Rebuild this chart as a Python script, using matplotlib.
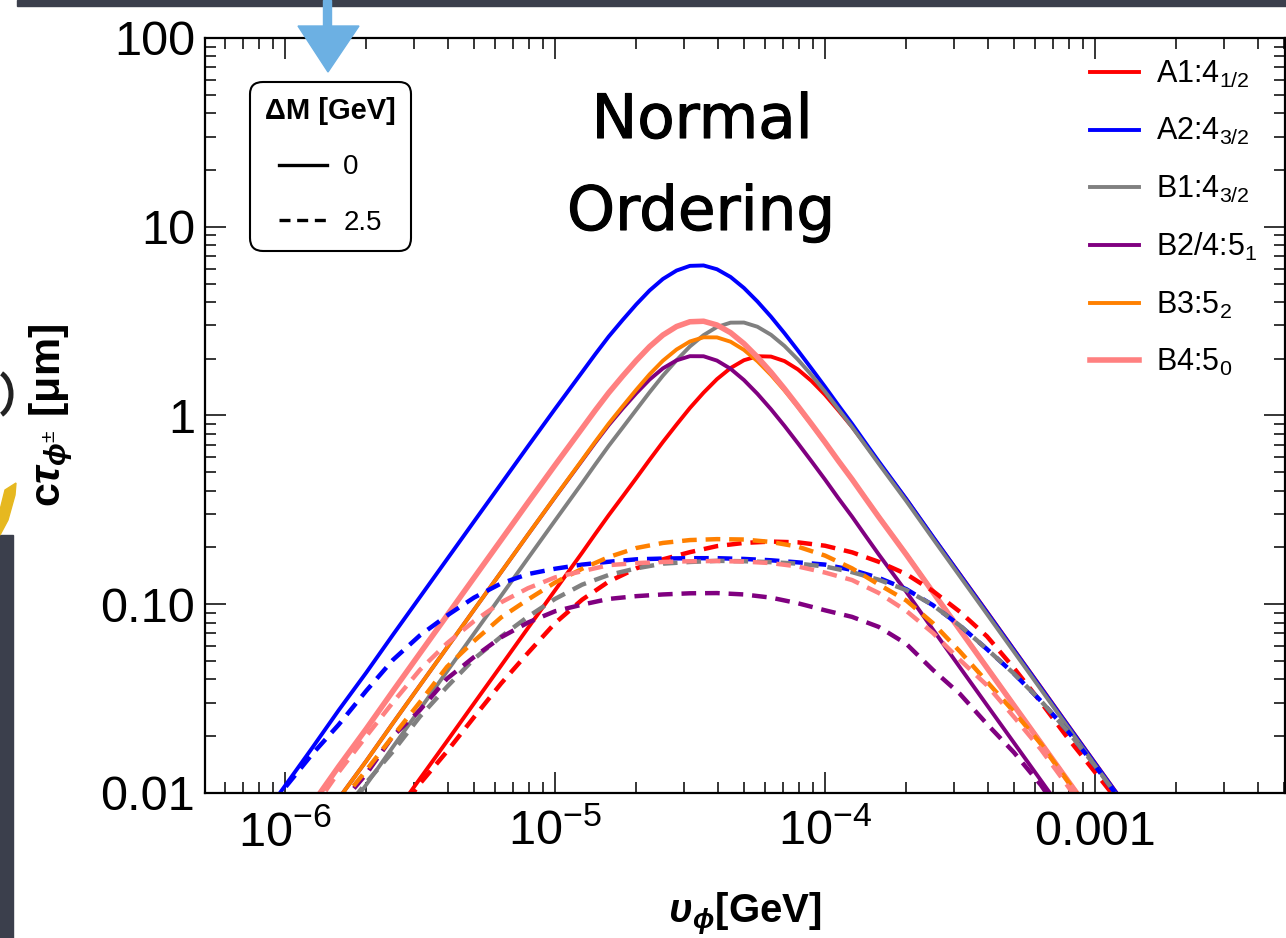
import matplotlib
matplotlib.use("Agg")
import matplotlib.pyplot as plt
import matplotlib.patheffects as pe
import numpy as np
from matplotlib.lines import Line2D
from matplotlib.patches import Arc, Polygon, Rectangle
from matplotlib.ticker import LogLocator, NullFormatter

nan = np.nan

# v_phi [GeV] for the solid curves (finer around the peaks)
v_solid = [7.94e-7, 1.0e-6, 1.26e-6, 1.58e-6, 2.0e-6, 2.51e-6, 3.16e-6, 3.98e-6,
           5.01e-6, 6.31e-6, 7.94e-6, 1.0e-5, 1.26e-5, 1.41e-5, 1.58e-5, 1.78e-5,
           2.0e-5, 2.24e-5, 2.51e-5, 2.82e-5, 3.16e-5, 3.55e-5, 3.98e-5, 4.47e-5,
           5.01e-5, 5.62e-5, 6.31e-5, 7.08e-5, 7.94e-5, 8.91e-5, 1.0e-4, 1.12e-4,
           1.26e-4, 1.41e-4, 1.58e-4, 2.0e-4, 2.51e-4, 3.16e-4, 3.98e-4, 5.01e-4,
           6.31e-4, 7.94e-4, 1.0e-3, 1.26e-3, 1.58e-3]

# v_phi [GeV] for the dashed curves
v_dashed = [7.94e-7, 1.0e-6, 1.26e-6, 1.58e-6, 2.0e-6, 2.51e-6, 3.16e-6, 3.98e-6,
            5.01e-6, 6.31e-6, 7.94e-6, 1.0e-5, 1.26e-5, 1.58e-5, 2.0e-5, 2.51e-5,
            3.16e-5, 3.98e-5, 5.01e-5, 6.31e-5, 7.94e-5, 1.0e-4, 1.26e-4, 1.58e-4,
            2.0e-4, 2.51e-4, 3.16e-4, 3.98e-4, 5.01e-4, 6.31e-4, 7.94e-4, 1.0e-3,
            1.26e-3, 1.58e-3]

# c*tau [um], Delta M = 0 (solid)
a1_dm0 = [nan, nan, nan, nan, nan, 0.0075, 0.0119, 0.0188, 0.0298, 0.0472, 0.0748,
          0.1185, 0.1875,
          0.2358, 0.296, 0.3719, 0.466, 0.5823, 0.724, 0.8954, 1.096, 1.321, 1.558,
          1.784, 1.963, 2.061, 2.052, 1.942, 1.754, 1.525, 1.288, 1.066, 0.870,
          0.703, 0.565,
          0.360, 0.227, 0.144, 0.0912, 0.0575, 0.0363, 0.0229, 0.01445, 0.00912,
          0.00575]
a2_dm0 = [0.00689, 0.01091, 0.0173, 0.02742, 0.04345, 0.06887, 0.1091, 0.173, 0.2741,
          0.434, 0.6867, 1.083, 1.697,
          2.113, 2.617, 3.206, 3.879, 4.595, 5.289, 5.861, 6.206, 6.237, 5.954,
          5.418, 4.738, 4.018, 3.337, 2.728, 2.207, 1.774, 1.420, 1.134, 0.903,
          0.719, 0.572,
          0.361, 0.228, 0.1438, 0.0908, 0.0573, 0.0361, 0.0228, 0.01439, 0.00908,
          0.00573]
b1_dm0 = [nan, nan, nan, 0.00698, 0.01107, 0.01754, 0.0278, 0.04406, 0.0698, 0.1106,
          0.1752, 0.2774, 0.4384,
          0.5505, 0.6897, 0.8619, 1.073, 1.327, 1.626, 1.963, 2.322, 2.665, 2.944,
          3.104, 3.108, 2.953, 2.677, 2.335, 1.978, 1.639, 1.339, 1.082, 0.869,
          0.696, 0.556,
          0.352, 0.2225, 0.1405, 0.0887, 0.056, 0.0353, 0.0223, 0.01406, 0.00887,
          0.0056]
b24_dm0 = [nan, nan, 0.00589, 0.00933, 0.01479, 0.02344, 0.03715, 0.05888, 0.0933,
           0.1477, 0.2337, 0.3686, 0.5771,
           0.7186, 0.8884, 1.088, 1.312, 1.550, 1.777, 1.960, 2.062, 2.060, 1.954,
           1.768, 1.541, 1.303, 1.079, 0.881, 0.712, 0.5723, 0.458, 0.3651, 0.291,
           0.2315, 0.184,
           0.1164, 0.0735, 0.0463, 0.0292, 0.01845, 0.01164, 0.00735, nan, nan, nan]
b3_dm0 = [nan, nan, 0.00589, 0.00933, 0.01479, 0.02344, 0.03715, 0.05888, 0.0933,
          0.1478, 0.2339, 0.3697, 0.5814,
          0.7268, 0.9045, 1.118, 1.369, 1.652, 1.951, 2.237, 2.467, 2.596, 2.593,
          2.460, 2.227, 1.940, 1.640, 1.358, 1.109, 0.8964, 0.720, 0.5763, 0.460,
          0.3662, 0.2915,
          0.1842, 0.1164, 0.0735, 0.0463, 0.0292, 0.01845, 0.01164, 0.00735, nan, nan]
b4_dm0 = [nan, 0.0055, 0.00871, 0.0138, 0.02188, 0.03467, 0.05495, 0.0871, 0.138,
          0.2185, 0.3457, 0.5453, 0.8549,
          1.065, 1.318, 1.616, 1.955, 2.317, 2.669, 2.961, 3.138, 3.158, 3.016,
          2.747, 2.404, 2.040, 1.695, 1.385, 1.121, 0.9016, 0.722, 0.576, 0.459,
          0.3652, 0.2904,
          0.1833, 0.1159, 0.0731, 0.0461, 0.0291, 0.01837, 0.01159, 0.00731, nan, nan]

# c*tau [um], Delta M = 2.5 GeV (dashed)
a1_dm25 = [nan, nan, nan, nan, nan, 0.0072, 0.0112, 0.0166, 0.0252, 0.038, 0.0552,
           0.0794, 0.1057, 0.1318, 0.1549, 0.173, 0.1888, 0.2032, 0.2113, 0.2148,
           0.2128, 0.2042, 0.1884, 0.1679, 0.1445, 0.1175, 0.0912, 0.0676, 0.0459,
           0.0302, 0.0195, 0.0129, 0.0085, nan]
a2_dm25 = [0.0068, 0.01067, 0.01603, 0.023, 0.0348, 0.0507, 0.0684, 0.0871, 0.1084,
           0.1288, 0.1445, 0.1542, 0.1622, 0.1679, 0.173, 0.1746, 0.1754, 0.1754,
           0.1738, 0.171, 0.1667, 0.1622, 0.152, 0.138, 0.1202, 0.0989, 0.0771,
           0.0578, 0.0429, 0.0307, 0.0212, 0.01396, 0.0089, 0.0056]
b1_dm25 = [nan, nan, nan, 0.0074, 0.01135, 0.0166, 0.0254, 0.0365, 0.0513, 0.0673,
           0.0859, 0.1067, 0.127, 0.1429, 0.1549, 0.1641, 0.1675, 0.1698, 0.169,
           0.1671, 0.1641, 0.1585, 0.1479, 0.1349, 0.1189, 0.0989, 0.0771, 0.0578,
           0.0429, 0.0307, 0.0212, 0.01396, 0.0089, 0.0056]
b24_dm25 = [nan, nan, nan, 0.0085, 0.0126, 0.020, 0.0275, 0.0403, 0.0525, 0.0668,
            0.080, 0.0918, 0.0995, 0.1067, 0.1104, 0.1127, 0.1143, 0.1146, 0.1127,
            0.1084, 0.1012, 0.0929, 0.0857, 0.0759, 0.0617, 0.0449, 0.0335, 0.0232,
            0.0164, 0.011, 0.0068, nan, nan, nan]
b3_dm25 = [nan, nan, nan, 0.0087, 0.0132, 0.020, 0.0303, 0.0466, 0.0638, 0.0851,
           0.1059, 0.1303, 0.1542, 0.1778, 0.1986, 0.2113, 0.2188, 0.2213, 0.2203,
           0.2138, 0.2018, 0.1811, 0.1549, 0.1274, 0.1047, 0.0794, 0.0562, 0.0389,
           0.0269, 0.0182, 0.0115, 0.0072, nan, nan]
b4_dm25 = [nan, nan, 0.0081, 0.0129, 0.020, 0.0302, 0.0449, 0.0621, 0.0813, 0.1023,
           0.1216, 0.1387, 0.1496, 0.1611, 0.1652, 0.1675, 0.169, 0.1694, 0.1683,
           0.1652, 0.1585, 0.1472, 0.1343, 0.1148, 0.0923, 0.0705, 0.0507, 0.0372,
           0.0253, 0.017, 0.01084, 0.0068, nan, nan]

labels = ["A1:4$_{1/2}$", "A2:4$_{3/2}$", "B1:4$_{3/2}$", "B2/4:5$_{1}$",
          "B3:5$_{2}$", "B4:5$_{0}$"]
colors = ["#ff0000", "#0000ff", "#808080", "#800080", "#ff8000", "#ff8080"]
widths = [2.8, 2.8, 2.8, 2.8, 2.8, 4.0]
solid = [a1_dm0, a2_dm0, b1_dm0, b24_dm0, b3_dm0, b4_dm0]
dashed = [a1_dm25, a2_dm25, b1_dm25, b24_dm25, b3_dm25, b4_dm25]

dm_labels = ["0", "2.5"]
xticks = [1e-6, 1e-5, 1e-4, 1e-3]
xticklabels = [r"$10^{-6}$", r"$10^{-5}$", r"$10^{-4}$", "0.001"]
yticks = [0.01, 0.1, 1, 10, 100]
yticklabels = ["0.01", "0.10", "1", "10", "100"]

plt.rcParams["font.family"] = ["Liberation Sans", "DejaVu Sans"]
plt.rcParams["mathtext.fontset"] = "custom"
plt.rcParams["mathtext.rm"] = "Liberation Sans"
plt.rcParams["mathtext.it"] = "Liberation Sans:italic"
plt.rcParams["mathtext.bf"] = "Liberation Sans:bold"
plt.rcParams["mathtext.bfit"] = "Liberation Sans:italic:bold"

W, H = 1286, 938
fig = plt.figure(figsize=(W / 100, H / 100), dpi=100)
ax = fig.add_axes([205 / W, (H - 793) / H, 1080 / W, 755 / H])

dash = (0, (3.3, 2.0))
for ys, c, lw in zip(solid, colors, widths):
    ax.plot(v_solid, ys, color=c, lw=lw, solid_joinstyle="round")
for ys, c in zip(dashed, colors):
    ax.plot(v_dashed, ys, color=c, lw=3.2, ls=dash)

ax.set_xscale("log")
ax.set_yscale("log")
ax.set_xlim(5.055e-7, 5.055e-3)
ax.set_ylim(0.01, 100)

ax.set_xticks(xticks, labels=xticklabels)
ax.set_yticks(yticks, labels=yticklabels)
ax.xaxis.set_minor_locator(LogLocator(base=10, subs=np.arange(2, 10)))
ax.yaxis.set_minor_locator(LogLocator(base=10, subs=np.arange(2, 10)))
ax.xaxis.set_minor_formatter(NullFormatter())
ax.yaxis.set_minor_formatter(NullFormatter())
ax.tick_params(which="both", direction="in", top=True, right=True, width=1.1)
ax.tick_params(which="major", length=15)
ax.tick_params(which="minor", length=8)
ax.tick_params(axis="x", which="major", labelsize=35, pad=12)
ax.tick_params(axis="y", which="major", labelsize=35, pad=7)
for s in ax.spines.values():
    s.set_linewidth(1.6)

ax.set_xlabel(r"$\mathbfit{\upsilon}_{\mathbfit{\phi}}$[GeV]", fontsize=29,
              fontweight="bold")
ax.xaxis.set_label_coords(0.5, -0.13)
ax.set_ylabel(r"$\mathbf{c}\mathbfit{\tau}_{\mathbfit{\phi}^{\pm}}$ [μm]", fontsize=31,
              fontweight="bold")
ax.yaxis.set_label_coords(-0.12, 0.5)

# Delta M legend
dm_handles = [Line2D([], [], color="black", lw=2.4),
              Line2D([], [], color="black", lw=2.4, ls=dash)]
leg1 = ax.legend(dm_handles, dm_labels, title="ΔM [GeV]", loc="upper left",
                 bbox_to_anchor=(45 / 1080, (793 - 82) / 755), borderaxespad=0,
                 fontsize=20, title_fontproperties={"weight": "bold", "size": 21},
                 handlelength=1.7, handletextpad=0.6, labelspacing=1.05,
                 borderpad=0.55, fancybox=True, edgecolor="black", framealpha=1)
leg1.get_frame().set_linewidth(1.5)
leg1.get_frame().set_boxstyle("round", pad=0, rounding_size=0.45)
ax.add_artist(leg1)

# benchmark legend
bm_handles = [Line2D([], [], color=c, lw=lw) for c, lw in zip(colors, widths)]
ax.legend(bm_handles, labels, loc="upper left",
          bbox_to_anchor=((1090 - 205) / 1080, (793 - 59) / 755), borderaxespad=0,
          borderpad=0, fontsize=22, handlelength=1.6, handletextpad=0.55,
          labelspacing=0.86, frameon=False)

# hand-written annotation
marker = [pe.withStroke(linewidth=0.8, foreground="black")]
fig.text(702 / W, 1 - 138 / H, "Normal", ha="center", va="baseline", fontsize=44,
         family="DejaVu Sans", path_effects=marker)
fig.text(701 / W, 1 - 230 / H, "Ordering", ha="center", va="baseline", fontsize=44,
         family="DejaVu Sans", path_effects=marker)


# slide decorations around the chart
def px(x, y):
    return (x / W, 1 - y / H)


fig.add_artist(Rectangle(px(17, 6), (W - 17) / W, 6 / H, transform=fig.transFigure,
                         color="#3b3f4c", zorder=5))
fig.add_artist(Rectangle(px(0, H), 13 / W, (H - 535) / H, transform=fig.transFigure,
                         color="#3b3f4c", zorder=5))
fig.add_artist(Polygon([px(323, 0), px(331, 0), px(331, 28), px(323, 28)],
                       transform=fig.transFigure, color="#6cb0e3", zorder=6))
fig.add_artist(Polygon([px(298, 26), px(359, 26), px(328, 72)],
                       transform=fig.transFigure, color="#6cb0e3", zorder=6))
fig.add_artist(Polygon([px(5, 490), px(16, 483), px(15, 495), px(8, 520), px(0, 535),
                        px(0, 510)], transform=fig.transFigure, color="#e6b820",
                       zorder=6))
fig.add_artist(Arc(px(-6, 394), 34 / W, 46 / H, theta1=-75, theta2=75,
                   transform=fig.transFigure, color="#222222", lw=3.6, zorder=6))

fig.savefig("out.png", dpi=100)
